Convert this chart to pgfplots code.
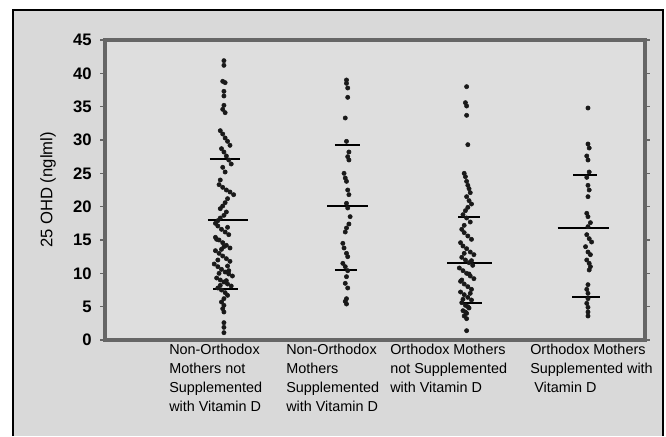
\documentclass[border=0pt]{standalone}
\usepackage{pgfplots}
\pgfplotsset{compat=1.18}
\usepackage{fontspec}
\setmainfont{Liberation Sans}
\definecolor{bgout}{HTML}{D9D9D9}
\definecolor{bgin}{HTML}{DEDEDE}
\definecolor{axgray}{HTML}{666666}
\begin{document}
\begin{tikzpicture}
\useasboundingbox (0pt,0pt) rectangle (499.5pt,327pt);
\fill[white] (0pt,0pt) rectangle (499.5pt,327pt);
\fill[bgout] (9.75pt,0pt) rectangle (497.25pt,319.5pt);
\draw[black, line width=1.1pt] (9.75pt,0pt) -- (9.75pt,319.5pt) -- (497.25pt,319.5pt) -- (497.25pt,0pt);
\begin{axis}[
  at={(78.75pt,72pt)}, anchor=south west,
  scale only axis, width=405pt, height=225pt,
  xmin=0.02, xmax=4.47, ymin=0, ymax=45,
  ytick={0,5,...,45},
  xtick={1,2,3,4},
  xticklabels={},
  major x tick style={draw=none},
  tick align=outside,
  major tick length=3.5pt,
  y tick style={axgray, line width=0.8pt},
  yticklabel style={font=\fontsize{12.5}{12.5}\selectfont\bfseries, xshift=-3pt},
  axis line style={axgray, line width=2.6pt},
  axis background/.style={fill=bgin},
  ylabel={25 OHD (nglml)},
  ylabel style={font=\fontsize{12.5}{12.5}\selectfont},
  ylabel shift=6pt,
  clip=false,
  /pgf/number format/assume math mode=true,
]
% Group 1
\addplot[only marks, mark=*, mark size=1.6pt, color=black!90] coordinates {
(1.00,41.9)(1.00,41.2)(0.99,38.8)(1.01,38.6)(1.00,37.3)(1.00,36.6)(1.00,35.2)(0.99,34.6)(1.01,34.1)
(0.97,31.4)(0.99,30.9)(1.01,30.3)(1.03,29.8)(1.05,29.2)(0.98,28.7)(1.00,28.2)(1.02,27.6)(1.04,27.0)(1.06,26.4)
(0.99,25.9)(1.01,25.2)(0.97,24.0)(0.96,23.3)(0.99,22.9)(1.02,22.5)(1.05,22.2)(1.08,21.8)(1.03,21.2)(1.01,20.6)
(0.99,20.1)(0.97,19.7)(1.02,19.2)(1.00,18.7)(0.97,18.3)(0.95,17.9)(0.93,17.5)(0.95,17.1)(0.98,16.6)(1.01,16.2)
(1.04,15.8)(0.93,15.4)(0.96,15.0)(0.99,14.6)(1.02,14.2)(1.05,13.8)(0.93,13.4)(0.96,13.0)(0.99,12.6)(1.02,12.2)
(1.05,11.8)(0.92,11.4)(0.95,11.0)(0.98,10.6)(1.01,10.2)(1.04,9.9)(1.07,9.6)(0.94,9.3)(0.97,9.0)(1.00,8.7)
(1.03,8.4)(1.06,8.1)(0.95,7.8)(0.98,7.5)(1.01,7.1)(1.03,6.7)(1.00,6.2)(0.98,5.7)(1.00,5.2)(0.99,4.7)(1.00,4.2)
(1.00,2.6)(1.00,1.9)(1.00,1.1)
(0.94,15.1)(1.00,14.0)(0.95,12.0)(1.03,11.1)(0.96,10.0)(1.02,8.9)(0.97,8.2)(1.04,10.4)(0.98,13.6)(1.03,16.9)
};
% Group 2
\addplot[only marks, mark=*, mark size=1.6pt, color=black!90] coordinates {
(2.01,39.0)(2.01,38.5)(2.02,37.8)(2.02,36.4)(2.00,33.3)(2.01,29.8)(2.03,28.2)(2.02,27.5)(2.03,27.0)
(1.99,25.0)(2.00,24.3)(2.01,23.8)(2.02,22.5)(2.03,21.8)(2.01,20.5)(2.02,19.8)(2.04,18.5)(2.03,17.4)(2.01,16.8)
(2.00,16.2)(1.98,14.5)(1.99,13.8)(2.01,13.0)(2.02,12.5)(1.98,11.5)(2.00,11.0)(2.02,10.4)(2.01,9.5)(2.00,8.5)
(2.02,7.8)(2.01,6.2)(2.00,5.8)(2.01,5.4)
};
% Group 3
\addplot[only marks, mark=*, mark size=1.6pt, color=black!90] coordinates {
(3.00,38.0)(2.99,35.6)(3.00,35.1)(3.00,33.7)(3.01,29.3)(2.98,25.0)(2.99,24.5)(3.00,23.8)(3.01,23.2)(3.02,22.7)
(3.03,22.1)(3.00,21.5)(3.02,20.9)(3.04,20.4)(3.01,19.9)(2.99,19.4)(2.97,18.8)(3.00,18.3)(3.03,17.7)(2.98,17.2)
(2.96,16.6)(2.98,16.1)(3.01,15.6)(3.04,15.1)(2.95,14.6)(2.97,14.1)(3.00,13.7)(3.03,13.2)(3.06,12.8)(2.96,12.4)
(2.99,12.0)(3.02,11.6)(3.05,11.2)(2.94,10.8)(2.97,10.4)(3.00,10.0)(3.03,9.6)(3.06,9.2)(2.95,8.8)(2.98,8.4)
(3.01,8.0)(3.04,7.6)(2.95,7.2)(2.98,6.8)(3.01,6.4)(3.04,6.0)(2.96,5.6)(2.99,5.2)(3.02,4.8)(2.97,4.4)
(3.00,4.0)(2.98,3.6)(3.00,3.2)(3.00,1.4)
(3.02,9.9)(2.96,9.0)(3.03,7.0)(2.97,6.1)(3.01,5.0)(2.99,4.2)(3.04,11.9)(2.98,13.0)
};
% Group 4
\addplot[only marks, mark=*, mark size=1.6pt, color=black!90] coordinates {
(4.00,34.8)(4.00,29.4)(4.01,28.8)(3.99,27.6)(4.00,27.0)(4.01,25.2)(3.99,24.4)(4.00,23.2)(4.01,22.5)(4.00,21.5)
(3.99,19.0)(4.00,18.5)(4.02,17.6)(4.00,17.0)(3.99,15.8)(4.01,15.2)(4.03,14.7)(3.98,14.0)(4.00,13.2)(4.02,12.8)
(3.99,12.0)(4.01,11.5)(4.02,11.0)(4.01,10.5)(4.00,8.3)(3.99,7.6)(4.00,7.0)(4.00,6.2)(3.99,5.5)(4.00,4.9)
(4.00,4.2)(4.00,3.6)
};
% mean and SD lines
\addplot[black, line width=1.7pt] coordinates {(0.868,18) (1.198,18)};
\addplot[black, line width=1.7pt] coordinates {(0.885,27.2) (1.13,27.2)};
\addplot[black, line width=1.7pt] coordinates {(0.91,7.7) (1.115,7.7)};
\addplot[black, line width=1.7pt] coordinates {(1.85,20.1) (2.19,20.1)};
\addplot[black, line width=1.7pt] coordinates {(1.915,29.3) (2.12,29.3)};
\addplot[black, line width=1.7pt] coordinates {(1.915,10.5) (2.10,10.5)};
\addplot[black, line width=1.7pt] coordinates {(2.84,11.5) (3.21,11.5)};
\addplot[black, line width=1.7pt] coordinates {(2.93,18.5) (3.11,18.5)};
\addplot[black, line width=1.7pt] coordinates {(2.945,5.5) (3.13,5.5)};
\addplot[black, line width=1.7pt] coordinates {(3.75,16.8) (4.17,16.8)};
\addplot[black, line width=1.7pt] coordinates {(3.88,24.7) (4.075,24.7)};
\addplot[black, line width=1.7pt] coordinates {(3.87,6.5) (4.10,6.5)};
\end{axis}
\begin{scope}[every node/.style={anchor=north west, align=left, inner sep=0pt, font=\fontsize{10.8}{14.2}\selectfont}]
\node at (126.75pt,69pt) {Non-Orthodox\\Mothers not\\Supplemented\\with Vitamin D};
\node at (214.5pt,69pt) {Non-Orthodox\\Mothers\\Supplemented\\with Vitamin D};
\node at (292.5pt,69pt) {Orthodox Mothers\\not Supplemented\\with Vitamin D};
\node at (397.5pt,69pt) {Orthodox Mothers\\Supplemented with\\\ Vitamin D};
\end{scope}
\end{tikzpicture}
\end{document}
